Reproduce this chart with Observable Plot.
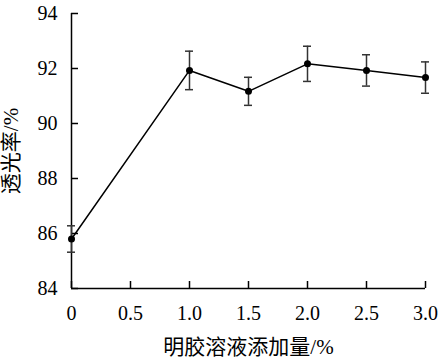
<!DOCTYPE html>
<html><head><meta charset="utf-8">
<script src="https://cdn.jsdelivr.net/npm/d3@7"></script>
<script src="https://cdn.jsdelivr.net/npm/@observablehq/plot@0.6"></script>
<style>body{margin:0;background:#fff}</style>
</head><body><div id="chart"></div>
<script>
const amounts = [0, 1.0, 1.5, 2.0, 2.5, 3.0];
const transmittance = [85.8, 91.93, 91.17, 92.17, 91.93, 91.67];
const errors = [0.48, 0.70, 0.51, 0.64, 0.57, 0.57];
const xTicks = [0, 0.5, 1, 1.5, 2, 2.5, 3];
const xTickLabels = ["0", "0.5", "1.0", "1.5", "2.0", "2.5", "3.0"];
const yTicks = [84, 86, 88, 90, 92, 94];
const yTickLabels = ["84", "86", "88", "90", "92", "94"];
const xLabel = "明胶溶液添加量/%";
const yLabel = "透光率/%";

const data = amounts.map((x, i) => ({x, y: transmittance[i], lo: transmittance[i] - errors[i], hi: transmittance[i] + errors[i]}));
const serif = "'Liberation Serif', 'Noto Sans CJK SC'";

const chart = Plot.plot({
  width: 439, height: 359,
  marginLeft: 71, marginRight: 14, marginTop: 13, marginBottom: 71,
  style: {fontSize: "20px", color: "#000", background: "#fff", overflow: "visible"},
  x: {domain: [0, 3]},
  y: {domain: [84, 94]},
  marks: [
    Plot.axisX({ticks: xTicks, tickFormat: d => xTickLabels[xTicks.indexOf(d)], tickSize: -7, tickPadding: 24, strokeWidth: 1.5,
      fontSize: 20, label: null}),
    Plot.axisX({ticks: [], fontSize: 21,
      label: xLabel, labelAnchor: "center", labelOffset: 65, labelArrow: "none"}),
    Plot.axisY({ticks: yTicks, tickFormat: d => yTickLabels[yTicks.indexOf(d)], tickSize: -7, tickPadding: 21, strokeWidth: 1.5,
      fontSize: 20, label: null}),
    Plot.axisY({ticks: [], fontSize: 21,
      label: yLabel, labelAnchor: "center", labelOffset: 68, labelArrow: "none"}),
    Plot.ruleX([0], {strokeWidth: 1.5}),
    Plot.ruleY([84], {strokeWidth: 1.5}),
    Plot.ruleX(data, {x: "x", y1: "lo", y2: "hi", stroke: "#333", strokeWidth: 1.5}),
    Plot.ruleY(data, {y: "lo", x1: "x", x2: "x", insetLeft: -4, insetRight: -4, stroke: "#333", strokeWidth: 1.5}),
    Plot.ruleY(data, {y: "hi", x1: "x", x2: "x", insetLeft: -4, insetRight: -4, stroke: "#333", strokeWidth: 1.5}),
    Plot.line(data, {x: "x", y: "y", stroke: "#000", strokeWidth: 1.5}),
    Plot.dot(data, {x: "x", y: "y", r: 3.5, fill: "#000", stroke: "none"})
  ]
});
d3.select(chart).style("font-family", serif);
d3.select(chart).selectAll("text").style("font-family", serif).attr("font-family", null).style("font-variant", "normal");
document.getElementById("chart").appendChild(chart);
</script>
</body></html>
